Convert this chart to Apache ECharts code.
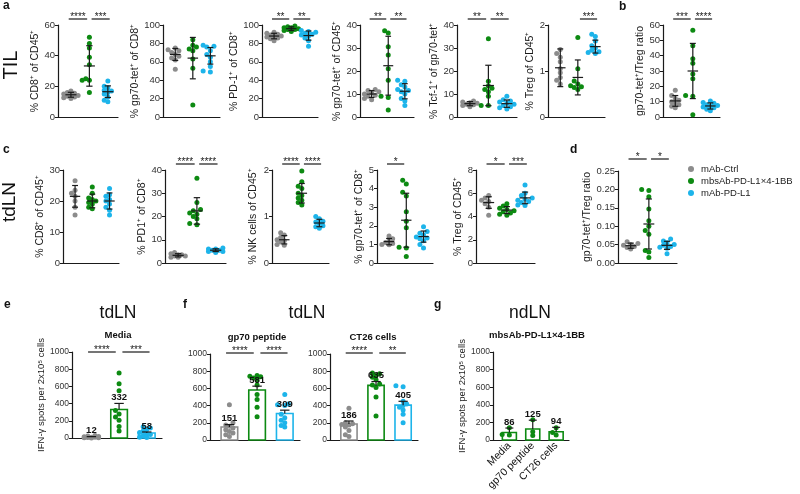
<!DOCTYPE html>
<html><head><meta charset="utf-8">
<script src="https://cdn.jsdelivr.net/npm/echarts@6.0.0/dist/echarts.min.js"></script>
<style>html,body{margin:0;padding:0;background:#fff}#c{width:800px;height:494px}</style>
</head><body><div id="c"></div>
<script>
// ---------------- DATA ----------------
const groupNames = ['mAb-Ctrl', 'mbsAb-PD-L1×4-1BB', 'mAb-PD-L1'];
const groupColors = ['#8c8c8c', '#0d8a12', '#1db4ea'];

// a: TIL
const tilCd8 = [[17,16,15.5,15,14.5,14,13.5,13,12.5,12],[52,48,45,39,34,25,24,24,16],[23.5,20,19,17.5,17,16,15,13,11,10]];
const tilCd8Mean = [14.5,33.3,16.5], tilCd8Sd = [1.6,13.2,3.8];
const tilCd8Sig = [[0,1,'****'],[1,2,'***']];

const tilTetCd8 = [[75,73,72,70,68,66,64,62,52],[84,78,76,74,72,63,53,13],[78,77,76,72,68,65,60,55,50,49]];
const tilTetCd8Mean = [68,64,66.5], tilTetCd8Sd = [6.5,22.5,9];
const tilTetCd8Sig = [];

const tilPd1 = [[92,91,90,89,88,88,87,86,85,83],[99,98,97,97,96,95,95,94,93],[94,93,92,91,90,89,88,86,83,77]];
const tilPd1Mean = [88,96,88.5], tilPd1Sd = [3,2,5];
const tilPd1Sig = [[0,1,'**'],[1,2,'**']];

const tilTetCd45 = [[12,11.5,11,10.5,10,9.5,9,8,7.5],[37.5,36.5,30.5,27,21,16,9,8.5,3],[16,15.5,14,13,12,11.5,11,10,8,7,5]];
const tilTetCd45Mean = [10,22.3,11.2], tilTetCd45Sd = [1.5,12.8,3.3];
const tilTetCd45Sig = [[0,1,'**'],[1,2,'**']];

const tilTcf1 = [[7,6.5,6.2,6,5.5,5.3,5,4.5],[34,15.5,13.5,12.5,12,11,9,5,5],[9,7.5,7,6.5,6,5.5,5,4.5,4,3.5]];
const tilTcf1Mean = [5.8,13.7,5.8], tilTcf1Sd = [0.9,8.8,1.6];
const tilTcf1Sig = [[0,1,'**'],[1,2,'**']];

const tilTreg = [[1.47,1.38,1.3,1.2,1.05,0.96,0.86,0.8,0.72],[1.73,1.05,0.78,0.72,0.68,0.66,0.64,0.6],[1.8,1.75,1.65,1.55,1.5,1.45,1.42,1.4,1.38]];
const tilTregMean = [1.07,0.86,1.53], tilTregSd = [0.41,0.38,0.14];
const tilTregSig = [[1,2,'***']];

const tilRatio = [[17.5,14,12,11,10,9,8,7,6],[56.5,46.5,38,35,28,25,14,13.5,1.5],[10.5,9.5,9,8,7.5,7,6.5,6,5,4]];
const tilRatioMean = [10.5,30,7.2], tilRatioSd = [3.5,18,2];
const tilRatioSig = [[0,1,'***'],[1,2,'****']];

// c/d: tdLN
const lnCd8 = [[26.5,23.5,22.5,21.5,20,18,15.5],[24.5,22.5,21,20.5,20,19.5,19,18,17.5],[24,22,21.5,20.5,20,19,18,17,15.5]];
const lnCd8Mean = [21.5,20,20], lnCd8Sd = [3.5,2.2,2.6];
const lnCd8Sig = [];

const lnPd1 = [[4.5,4,3.5,3.5,3,3,2.5,2.5],[36.5,26,23,22.5,21.5,21,20,19,17,16.5],[6.5,6,6,5.5,5.5,5,5,4.5]];
const lnPd1Mean = [3.3,22.4,5.5], lnPd1Sd = [0.7,5.7,0.6];
const lnPd1Sig = [[0,1,'****'],[1,2,'****']];

const lnNk = [[0.65,0.6,0.55,0.5,0.48,0.45,0.4,0.38],[1.98,1.75,1.65,1.6,1.5,1.45,1.4,1.35,1.3,1.25],[1.0,0.95,0.9,0.88,0.85,0.8,0.78,0.75]];
const lnNkMean = [0.5,1.5,0.86], lnNkSd = [0.09,0.21,0.08];
const lnNkSig = [[0,1,'****'],[1,2,'****']];

const lnTet = [[1.45,1.3,1.2,1.1,1.05,1.0,0.98],[4.45,4.25,3.8,3.6,2.75,2.25,1.9,0.85,0.8,0.35],[1.95,1.7,1.6,1.5,1.4,1.35,1.3,1.2,1.0,0.8]];
const lnTetMean = [1.15,2.3,1.42], lnTetSd = [0.17,1.45,0.3];
const lnTetSig = [[0,1,'*']];

const lnTreg = [[5.8,5.6,5.4,5.3,5.1,4.8,4.1],[5.1,4.9,4.7,4.6,4.5,4.4,4.3,4.2,4.1],[6.7,6.0,5.8,5.6,5.5,5.4,5.3,5.2,5.0,4.95]];
const lnTregMean = [5.2,4.55,5.6], lnTregSd = [0.5,0.3,0.5];
const lnTregSig = [[0,1,'*'],[1,2,'***']];

const lnRatio = [[0.058,0.053,0.05,0.048,0.045,0.042,0.038],[0.2,0.197,0.18,0.147,0.115,0.1,0.088,0.078,0.034,0.03,0.015],[0.065,0.06,0.055,0.05,0.048,0.045,0.043,0.04,0.025]];
const lnRatioMean = [0.047,0.106,0.048], lnRatioSd = [0.007,0.068,0.011];
const lnRatioSig = [[0,1,'*'],[1,2,'*']];

// e/f/g: IFN-γ ELISpot
const mediaSpots = [[28,22,18,14,10,8,6,4,2,0],[755,630,550,320,280,245,205,135,80],[130,115,100,80,65,50,40,25,10,5]];
const mediaMean = [12,332,58], mediaSem = [4,70,12];
const mediaSig = [[0,1,'****'],[1,2,'***']];

const gp70Spots = [[410,200,175,160,140,120,100,80,60,40],[750,740,735,720,700,640,530,470,380,270],[530,420,410,400,300,260,230,200,170,150]];
const gp70Mean = [151,581,309], gp70Sem = [28,45,38];
const gp70Sig = [[0,1,'****'],[1,2,'****']];

const ct26Spots = [[370,200,190,180,175,150,110,60,40],[780,770,750,730,700,650,640,610,500,280],[630,620,450,420,400,380,350,300,200]];
const ct26Mean = [186,635,405], ct26Sem = [35,45,45];
const ct26Sig = [[0,1,'****'],[1,2,'**']];

const ndlnCats = ['Media','gp70 peptide','CT26 cells'];
const ndlnSpots = [[140,62,56],[230,95,50],[140,85,57]];
const ndlnMean = [86,125,94], ndlnErr = [50,100,50];

// ---------------- LAYOUT ----------------
const FONT = '"Liberation Sans", Arial, sans-serif';
const INK = '#1a1a1a';
const X_MIN = -0.2, X_MAX = 3.05;
const DOT = 5;

const panels = [
  {kind:'dot', data:tilCd8, mean:tilCd8Mean, sd:tilCd8Sd, sig:tilCd8Sig, name:'% CD8⁺ of CD45⁺', max:60, interval:20, grid:[58,25,60,92], nameGap:15, sigGap:6},
  {kind:'dot', data:tilTetCd8, mean:tilTetCd8Mean, sd:tilTetCd8Sd, sig:tilTetCd8Sig, name:'% gp70-tet⁺ of CD8⁺', max:100, interval:20, grid:[163,25,57,92], nameGap:16, sigGap:6},
  {kind:'dot', data:tilPd1, mean:tilPd1Mean, sd:tilPd1Sd, sig:tilPd1Sig, name:'% PD-1⁺ of CD8⁺', max:100, interval:20, grid:[262,25,56,92], nameGap:18, sigGap:6},
  {kind:'dot', data:tilTetCd45, mean:tilTetCd45Mean, sd:tilTetCd45Sd, sig:tilTetCd45Sig, name:'% gp70-tet⁺ of CD45⁺', max:40, interval:10, grid:[360,25,54,92], nameGap:17, sigGap:6},
  {kind:'dot', data:tilTcf1, mean:tilTcf1Mean, sd:tilTcf1Sd, sig:tilTcf1Sig, name:'% Tcf-1⁺ of gp70-tet⁺', max:40, interval:10, grid:[457,25,60,92], nameGap:15, sigGap:6},
  {kind:'dot', data:tilTreg, mean:tilTregMean, sd:tilTregSd, sig:tilTregSig, name:'% Treg of CD45⁺', max:2, interval:1, grid:[548,25,57,92], nameGap:12, sigGap:6},
  {kind:'dot', data:tilRatio, mean:tilRatioMean, sd:tilRatioSd, sig:tilRatioSig, name:'gp70-tet⁺/Treg ratio', max:60, interval:10, grid:[663,25,57,92], nameGap:16, sigGap:6},

  {kind:'dot', data:lnCd8, mean:lnCd8Mean, sd:lnCd8Sd, sig:lnCd8Sig, name:'% CD8⁺ of CD45⁺', max:30, interval:10, grid:[63,170,56,93], nameGap:16, sigGap:6},
  {kind:'dot', data:lnPd1, mean:lnPd1Mean, sd:lnPd1Sd, sig:lnPd1Sig, name:'% PD1⁺ of CD8⁺', max:40, interval:10, grid:[165,170,61,93], nameGap:14, sigGap:6},
  {kind:'dot', data:lnNk, mean:lnNkMean, sd:lnNkSd, sig:lnNkSig, name:'% NK cells of CD45⁺', max:2, interval:1, grid:[272,170,57,93], nameGap:13, sigGap:6},
  {kind:'dot', data:lnTet, mean:lnTetMean, sd:lnTetSd, sig:lnTetSig, name:'% gp70-tet⁺ of CD8⁺', max:5, interval:1, grid:[377,170,56,93], nameGap:12, sigGap:6},
  {kind:'dot', data:lnTreg, mean:lnTregMean, sd:lnTregSd, sig:lnTregSig, name:'% Treg of CD45⁺', max:8, interval:2, grid:[476,170,59,93], nameGap:10, sigGap:6},
  {kind:'dot', data:lnRatio, mean:lnRatioMean, sd:lnRatioSd, sig:lnRatioSig, name:'gp70-tet⁺/Treg ratio', max:0.25, interval:0.05, decimals:2, grid:[618,171,59,92], nameGap:24, sigGap:12},

  {kind:'bar', data:mediaSpots, mean:mediaMean, err:mediaSem, sig:mediaSig, name:'IFN-γ spots per 2x10⁵ cells', max:1000, interval:200, grid:[72,352,90,86], nameGap:22, sigGap:0},
  {kind:'bar', data:gp70Spots, mean:gp70Mean, err:gp70Sem, sig:gp70Sig, name:'', max:1000, interval:200, grid:[210,354,90,86], nameGap:22, sigGap:1},
  {kind:'bar', data:ct26Spots, mean:ct26Mean, err:ct26Sem, sig:ct26Sig, name:'', max:1000, interval:200, grid:[330,354,88,86], nameGap:22, sigGap:1},
  {kind:'bar', data:ndlnSpots, mean:ndlnMean, err:ndlnErr, sig:[], name:'IFN-γ spots per 2x10⁵ cells', max:1000, interval:200, grid:[493,352,76,88], nameGap:18, sigGap:0, single:true, cats:ndlnCats}
];

// deterministic beeswarm-like horizontal spread (compact)
function swarm(vals, pxPerY, pxPerX, center) {
  const order = vals.map((v, i) => i).sort((a, b) => vals[a] - vals[b]);
  const placed = [];
  const xs = new Array(vals.length);
  const step = 3.6, minD = 3.8;
  for (const i of order) {
    const y = vals[i] * pxPerY;
    let best = 0, bestD = -1;
    for (let k = 0; k < 5; k++) {
      const off = k === 0 ? 0 : (k % 2 === 1 ? -Math.ceil(k / 2) * step : Math.ceil(k / 2) * step);
      const d = placed.length ? Math.min(...placed.map(p => Math.hypot(p.x - off, p.y - y))) : 99;
      if (d >= minD) { best = off; bestD = d; break; }
      if (d > bestD) { bestD = d; best = off; }
    }
    placed.push({x: best, y});
    xs[i] = center + best / pxPerX;
  }
  return xs;
}

const grid = [], xAxis = [], yAxis = [], series = [];
const lineStyle = {stroke: INK, lineWidth: 1.2};

panels.forEach((p, k) => {
  const [left, top, width, height] = p.grid;
  grid.push({left, top, width, height});
  const xa = {
    gridIndex: k, type: 'value', min: X_MIN, max: X_MAX,
    axisLine: {show: true, onZero: false, lineStyle: {color: INK, width: 1.2}},
    axisTick: {show: false}, axisLabel: {show: false}, splitLine: {show: false}
  };
  if (p.cats) {
    xa.axisLabel = {show: true, customValues: [0.5, 1.5, 2.5], rotate: 45, fontSize: 10.5, color: '#111', fontFamily: FONT, margin: 4,
      formatter: v => p.cats[Math.round(v - 0.5)] || ''};
  }
  xAxis.push(xa);
  yAxis.push({
    gridIndex: k, type: 'value', min: 0, max: p.max, interval: p.interval,
    name: p.name, nameLocation: 'middle', nameGap: p.nameGap,
    nameTextStyle: {fontSize: p.kind === 'bar' ? 9.5 : 10.5, color: INK, fontFamily: FONT},
    axisLine: {show: true, onZero: false, lineStyle: {color: INK, width: 1.2}},
    axisTick: {show: true, length: 3, lineStyle: {color: INK, width: 1}},
    axisLabel: {fontSize: p.kind === 'bar' ? 8.5 : 9.5, color: '#333', margin: 3, fontFamily: FONT,
      formatter: v => p.decimals ? v.toFixed(p.decimals) : String(v)},
    splitLine: {show: false}
  });

  const pxPerY = height / p.max;
  const pxPerX = width / (X_MAX - X_MIN);

  // scatter points
  p.data.forEach((vals, g) => {
    const xs = swarm(vals, pxPerY, pxPerX, g + 0.5);
    const cg = p.single ? 1 : g;
    series.push({
      type: 'scatter', name: groupNames[cg], xAxisIndex: k, yAxisIndex: k,
      symbol: 'circle', symbolSize: DOT, itemStyle: {color: groupColors[cg], opacity: 1},
      data: vals.map((v, i) => [xs[i], v]), z: 3, silent: true
    });
  });

  if (p.kind === 'dot') {
    series.push({
      type: 'custom', xAxisIndex: k, yAxisIndex: k, z: 4, silent: true, clip: false,
      data: p.mean.map((m, g) => [g, m, p.sd[g]]),
      renderItem: (params, api) => {
        const c = api.value(0) + 0.5, m = api.value(1), s = api.value(2);
        const pm = api.coord([c, m]), pt = api.coord([c, m + s]), pb = api.coord([c, Math.max(0, m - s)]);
        const hw = api.size([0.3, 0])[0], cw = api.size([0.17, 0])[0];
        return {type: 'group', children: [
          {type: 'line', shape: {x1: pm[0] - hw, y1: pm[1], x2: pm[0] + hw, y2: pm[1]}, style: lineStyle},
          {type: 'line', shape: {x1: pt[0], y1: pt[1], x2: pb[0], y2: pb[1]}, style: lineStyle},
          {type: 'line', shape: {x1: pt[0] - cw, y1: pt[1], x2: pt[0] + cw, y2: pt[1]}, style: lineStyle},
          {type: 'line', shape: {x1: pb[0] - cw, y1: pb[1], x2: pb[0] + cw, y2: pb[1]}, style: lineStyle}
        ]};
      }
    });
  } else {
    // bars (outline)
    series.push({
      type: 'custom', xAxisIndex: k, yAxisIndex: k, z: 1, silent: true,
      data: p.mean.map((m, g) => [g, m]),
      renderItem: (params, api) => {
        const g = api.value(0), c = g + 0.5;
        const p0 = api.coord([c - 0.3, 0]), p1 = api.coord([c + 0.3, api.value(1)]);
        const col = groupColors[p.single ? 1 : g];
        return {type: 'rect', shape: {x: p0[0], y: p1[1], width: p1[0] - p0[0], height: p0[1] - p1[1]},
          style: {fill: '#fff', stroke: col, lineWidth: 1.6}};
      }
    });
    // error bars + value labels
    series.push({
      type: 'custom', xAxisIndex: k, yAxisIndex: k, z: 5, silent: true, clip: false,
      data: p.mean.map((m, g) => [g, m, p.err[g]]),
      renderItem: (params, api) => {
        const c = api.value(0) + 0.5, m = api.value(1), e = api.value(2);
        const pm = api.coord([c, m]), pt = api.coord([c, m + e]);
        const cw = api.size([0.17, 0])[0];
        return {type: 'group', children: [
          {type: 'line', shape: {x1: pm[0], y1: pm[1], x2: pt[0], y2: pt[1]}, style: lineStyle},
          {type: 'line', shape: {x1: pt[0] - cw, y1: pt[1], x2: pt[0] + cw, y2: pt[1]}, style: lineStyle},
          {type: 'text', x: pt[0], y: pt[1] - 1, style: {text: String(m), fill: '#111', font: 'bold 9.5px ' + FONT,
            align: 'center', verticalAlign: 'bottom', textAlign: 'center', textVerticalAlign: 'bottom'}}
        ]};
      }
    });
  }

  // significance bars
  if (p.sig.length) {
    series.push({
      type: 'custom', xAxisIndex: k, yAxisIndex: k, z: 4, silent: true, clip: false,
      data: p.sig.map(s => [s[0], s[1]]),
      renderItem: (params, api) => {
        const i = api.value(0), j = api.value(1);
        const x1 = api.coord([i + 0.5 + (i === 0 ? -0.12 : 0.12), 0])[0];
        const x2 = api.coord([j + 0.5 + (j === 2 ? 0.1 : -0.12), 0])[0];
        const y = api.coord([0, p.max])[1] - p.sigGap;
        return {type: 'group', children: [
          {type: 'line', shape: {x1, y1: y, x2, y2: y}, style: lineStyle},
          {type: 'text', x: (x1 + x2) / 2, y: y - 2, style: {text: p.sig[params.dataIndex][2], fill: INK, font: '10px ' + FONT,
            align: 'center', verticalAlign: 'middle', textAlign: 'center', textVerticalAlign: 'middle'}}
        ]};
      }
    });
  }
});

function txt(text, x, y, font, opts) {
  return Object.assign({type: 'text', x, y, silent: true,
    style: Object.assign({text, font: font + ' ' + FONT, fill: '#111', align: 'left', verticalAlign: 'bottom',
      textAlign: 'left', textVerticalAlign: 'bottom'}, (opts && opts.style) || {})}, (opts && opts.el) || {});
}
const center = {style: {align: 'center', verticalAlign: 'middle', textAlign: 'center', textVerticalAlign: 'middle'}};

const graphic = [
  txt('a', 3, 12, 'bold 12px'),
  txt('b', 619, 12.5, 'bold 12px'),
  txt('c', 3, 156, 'bold 12px'),
  txt('d', 570, 156, 'bold 12px'),
  txt('e', 4, 310.5, 'bold 12px'),
  txt('f', 183, 310.5, 'bold 12px'),
  txt('g', 434, 310.5, 'bold 12px'),
  txt('TIL', 11, 65, '20px', {style: center.style, el: {rotation: Math.PI / 2}}),
  txt('tdLN', 10, 202, '19px', {style: center.style, el: {rotation: Math.PI / 2}}),
  txt('tdLN', 118, 313, '17.5px', center),
  txt('tdLN', 307, 313, '17.5px', center),
  txt('ndLN', 530, 313, '17.5px', center),
  txt('Media', 118, 335, 'bold 9.5px', center),
  txt('gp70 peptide', 257, 337, 'bold 9.5px', center),
  txt('CT26 cells', 373, 337, 'bold 9.5px', center),
  txt('mbsAb-PD-L1×4-1BB', 537, 335, 'bold 9.5px', center)
];

const chart = echarts.init(document.getElementById('c'), null, {renderer: 'canvas'});
chart.setOption({
  animation: false,
  backgroundColor: '#fff',
  textStyle: {fontFamily: FONT},
  grid, xAxis, yAxis, series, graphic,
  legend: {
    left: 683, top: 159, orient: 'vertical', icon: 'circle', itemWidth: 10, itemHeight: 6, itemGap: 2,
    textStyle: {fontSize: 9.5, color: '#222', fontFamily: FONT},
    selectedMode: false,
    data: groupNames.map((n, i) => ({name: n, itemStyle: {color: groupColors[i]}}))
  }
});
</script></body></html>
